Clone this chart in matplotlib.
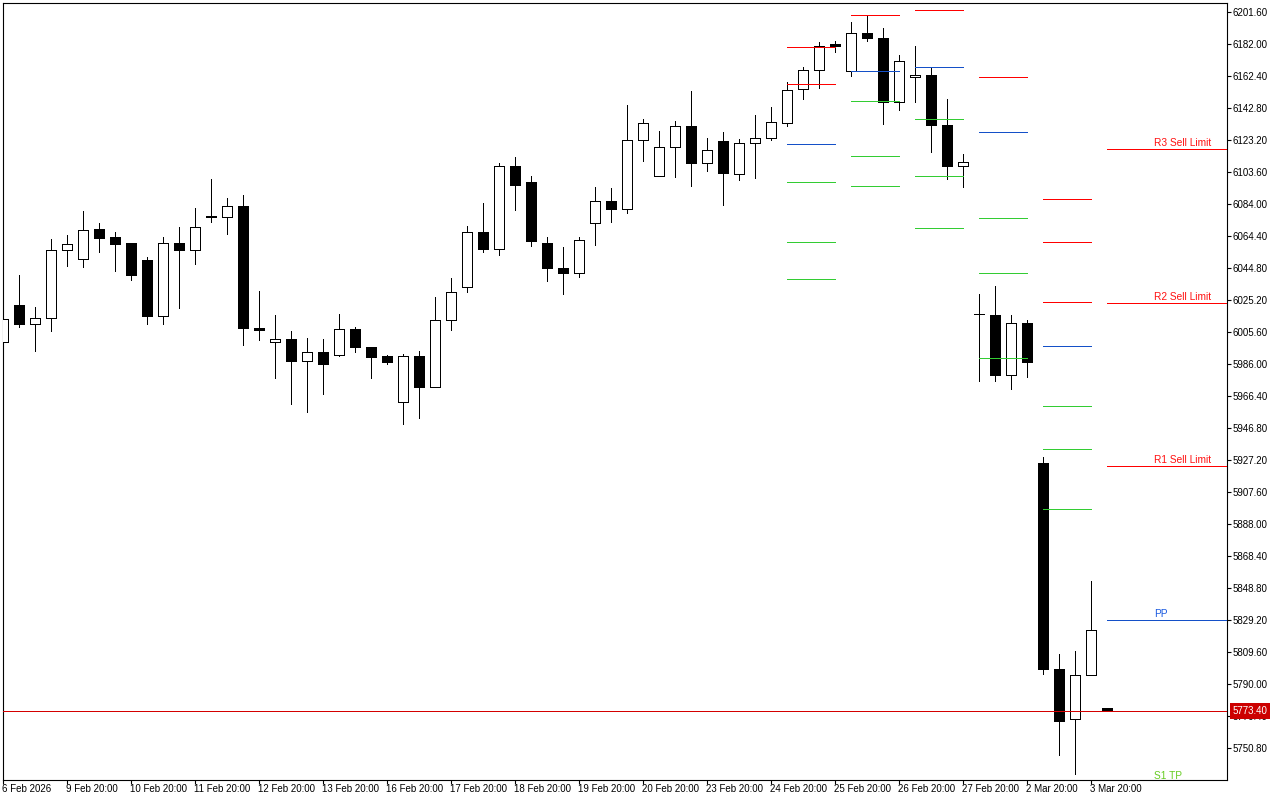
import numpy as np
import matplotlib
matplotlib.use('Agg')
import matplotlib.pyplot as plt

# candles, oldest first (one every 4 bars gets a date label)
opens = [5999.2, 6022.3, 6010.4, 6013.9, 6055.8, 6050.1, 6068.3, 6063.4, 6059.7, 6049.3,
         6015.2, 6060.3, 6055.8, 6076.0, 6075.8, 6082.4, 6008.2, 5999.2, 6000.9, 5987.6,
         5993.4, 5991.5, 6007.6, 5996.6, 5990.5, 5962.7, 5990.9, 5971.7, 6013.0, 6032.9,
         6066.9, 6056.2, 6107.3, 6097.5, 6060.1, 6044.8, 6041.5, 6072.1, 6085.8, 6080.7,
         6123.2, 6101.2, 6118.9, 6131.8, 6109.1, 6122.6, 6102.4, 6121.4, 6124.4, 6133.6,
         6154.4, 6166.1, 6181.9, 6165.5, 6188.7, 6185.7, 6146.5, 6161.8, 6163.0, 6132.4,
         6107.3, 6016.6, 6016.2, 5979.0, 6011.1, 5925.4, 5799.2, 5768.6, 5795.5, 5775.0]
highs = [6016.0, 6040.1, 6020.5, 6062.7, 6065.2, 6079.3, 6072.5, 6067.0, 6059.7, 6051.7,
         6063.4, 6070.1, 6081.7, 6098.9, 6087.3, 6089.1, 6030.9, 6015.6, 6006.4, 6002.1,
         6001.5, 6016.8, 6008.8, 5996.6, 5991.1, 5992.3, 5994.1, 6027.2, 6038.3, 6070.7,
         6084.2, 6109.3, 6112.4, 6101.2, 6063.4, 6057.8, 6063.4, 6094.6, 6093.4, 6144.8,
         6136.2, 6128.3, 6135.0, 6152.8, 6124.6, 6127.7, 6123.4, 6138.1, 6143.6, 6158.9,
         6167.9, 6183.2, 6183.8, 6195.5, 6199.8, 6191.8, 6175.3, 6180.8, 6167.3, 6148.3,
         6114.6, 6028.9, 6033.8, 6016.2, 6013.0, 5929.2, 5808.4, 5810.2, 5853.1, 5775.0]
lows = [5997.0, 6008.4, 5993.7, 6006.4, 6046.2, 6045.6, 6054.2, 6042.7, 6037.2, 6010.1,
        6010.1, 6020.1, 6047.4, 6072.7, 6065.4, 5997.4, 6000.3, 5977.6, 5961.1, 5956.4,
        5967.8, 5990.7, 5993.5, 5977.2, 5985.8, 5949.0, 5952.7, 5971.7, 6006.6, 6029.9,
        6054.4, 6052.5, 6080.1, 6058.0, 6036.6, 6028.6, 6039.0, 6058.6, 6072.7, 6078.2,
        6110.1, 6101.2, 6100.3, 6094.8, 6104.0, 6083.1, 6098.5, 6099.7, 6123.2, 6131.8,
        6148.1, 6154.8, 6177.1, 6162.4, 6183.8, 6133.0, 6141.6, 6146.5, 6115.9, 6099.3,
        6094.4, 5975.6, 5975.4, 5970.4, 5977.8, 5795.9, 5746.3, 5734.9, 5795.5, 5773.4]
closes = [6013.6, 6010.3, 6014.2, 6056.0, 6059.1, 6068.1, 6062.9, 6059.3, 6040.3, 6015.2,
          6059.7, 6055.6, 6069.5, 6076.4, 6082.4, 6007.8, 6006.6, 6000.9, 5987.6, 5993.4,
          5985.8, 6007.6, 5996.2, 5990.1, 5987.0, 5990.9, 5971.7, 6013.0, 6030.1, 6066.9,
          6056.2, 6107.3, 6095.4, 6061.1, 6044.6, 6041.5, 6062.0, 6085.8, 6080.7, 6123.2,
          6133.6, 6118.9, 6131.8, 6108.9, 6117.1, 6102.7, 6121.4, 6124.4, 6134.2, 6153.8,
          6166.1, 6180.8, 6180.8, 6188.7, 6185.7, 6146.5, 6171.6, 6163.0, 6132.4, 6107.3,
          6109.5, 6016.4, 5979.0, 6011.1, 5987.0, 5798.9, 5767.1, 5795.3, 5823.1, 5773.4]

date_labels = ['6 Feb 2026', '9 Feb 20:00', '10 Feb 20:00', '11 Feb 20:00', '12 Feb 20:00',
               '13 Feb 20:00', '16 Feb 20:00', '17 Feb 20:00', '18 Feb 20:00', '19 Feb 20:00',
               '20 Feb 20:00', '23 Feb 20:00', '24 Feb 20:00', '25 Feb 20:00', '26 Feb 20:00',
               '27 Feb 20:00', '2 Mar 20:00', '3 Mar 20:00']

# previous days' pivot levels (start bar, levels, kind R/P/S)
day_starts = [49, 53, 57, 61, 65]
day_levels = [[6180.2, 6157.5, 6120.8, 6097.5, 6060.9, 6038.1],
              [6199.8, 6165.5, 6147.1, 6113.4, 6095.0],
              [6202.8, 6167.9, 6136.1, 6101.2, 6069.3],
              [6161.8, 6128.1, 6075.4, 6041.7, 5989.7],
              [6087.1, 6060.7, 6024.0, 5997.0, 5960.3, 5933.9, 5897.2]]
day_kinds = ['RRPSSS', 'RPSSS', 'RPSSS', 'RPSSS', 'RRRPSSS']

# current day levels
cur_start = 69
cur_names = ['R3 Sell Limit', 'R2 Sell Limit', 'R1 Sell Limit', 'PP', 'S1 TP']
cur_levels = [6117.7, 6023.4, 5923.5, 5829.2, 5730.1]
cur_kinds = 'RRRPS'
last_price = 5773.40

y_ticks = [6201.6 - 19.6 * i for i in range(24)]

plt.rcParams['font.family'] = ['Liberation Sans', 'DejaVu Sans']
plt.rcParams['font.size'] = 7

px = 0.72  # one pixel in points
line_col = {'R': '#ff0000', 'P': '#1450c8', 'S': '#33cc33'}
text_col = {'R': '#ff1010', 'P': '#1a5ae0', 'S': '#66cc22'}

fig = plt.figure(figsize=(12.8, 8), dpi=100)
ax = fig.add_axes([2.5/1280, 20.5/800, 1224/1280, 777/800])

o = np.array(opens); h = np.array(highs); l = np.array(lows); c = np.array(closes)
x = np.arange(len(o))
up = c >= o
ax.vlines(x, l, h, color='black', lw=px, zorder=2, antialiased=False)
ax.bar(x, np.abs(c - o), bottom=np.minimum(o, c), width=10/16,
       color=np.where(up, 'white', 'black'), edgecolor='black', linewidth=px,
       zorder=3, antialiased=False)

for s, lev, kinds in zip(day_starts, day_levels, day_kinds):
   ax.hlines(lev, s, s + 3, colors=[line_col[k] for k in kinds], lw=px, zorder=4,
             antialiased=False)

ax.hlines(cur_levels, cur_start, 76.5, colors=[line_col[k] for k in cur_kinds], lw=px,
          zorder=4, antialiased=False)
for name, lev, k in zip(cur_names, cur_levels, cur_kinds):
   ax.annotate(name, xy=(72, lev), xytext=(0, 3), textcoords='offset pixels',
               ha='left', va='baseline', color=text_col[k], fontsize=7.3,
               annotation_clip=False, zorder=5)

ax.axhline(last_price, color='#d40000', lw=px, zorder=4, antialiased=False)
ax.annotate('%.2f' % last_price, xy=(1, last_price), xycoords=('axes fraction', 'data'),
            xytext=(6, 0), textcoords='offset pixels', ha='left', va='center', color='white',
            bbox=dict(boxstyle='square,pad=0.3', fc='#cc0000', ec='none'),
            annotation_clip=False, zorder=10)

ax.set_xlim(0, 76.5)
ax.set_ylim(5731.4, 6207.3)

ax.yaxis.tick_right()
ax.set_yticks(y_ticks)
ax.set_yticklabels(['%.2f' % v for v in y_ticks])
ax.tick_params(axis='y', direction='out', length=3, width=0.8, pad=1.5, labelsize=7)

ax.set_xticks(range(0, 4 * len(date_labels), 4))
ax.set_xticklabels(date_labels, ha='left')
ax.tick_params(axis='x', direction='out', length=3, width=0.8, pad=0.5, labelsize=7)

for sp in ax.spines.values():
   sp.set_linewidth(0.8)
   sp.set_color('black')

fig.savefig('out.png', dpi=100)
